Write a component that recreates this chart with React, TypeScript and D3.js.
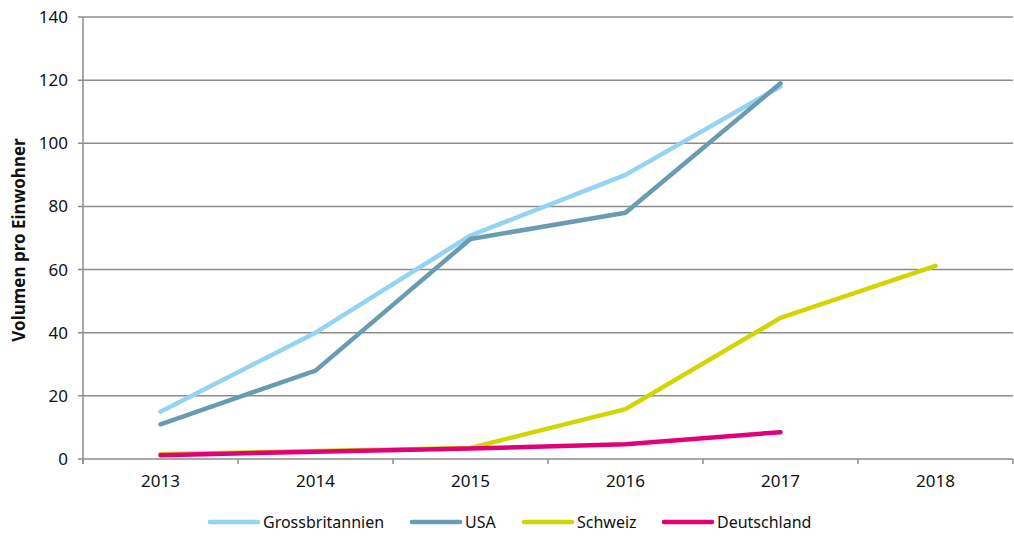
import React, { useRef, useEffect } from "react";
import * as d3 from "d3";

const years = ["2013", "2014", "2015", "2016", "2017", "2018"];
const yTicks = [0, 20, 40, 60, 80, 100, 120, 140];

const seriesNames = ["Grossbritannien", "USA", "Schweiz", "Deutschland"];
const seriesColors = ["#94d3f2", "#6a9bb0", "#cfd600", "#e2007a"];

const grossbritannien = [15, 40, 70.8, 90, 118];
const usa = [11, 28, 69.7, 78, 119];
const schweiz = [1.5, 2.5, 3.5, 15.8, 44.7, 61.2];
const deutschland = [1.2, 2.3, 3.3, 4.7, 8.5];

const allSeries = [grossbritannien, usa, schweiz, deutschland];

const W = 1014;
const H = 538;
const FONT = "'Noto Sans', 'DejaVu Sans', sans-serif";

const App: React.FC = () => {
    const svgRef = useRef<SVGSVGElement | null>(null);

    useEffect(() => {
        const svg = d3.select(svgRef.current);
        svg.selectAll("*").remove();

        const left = 83;
        const right = 1013;
        const top = 17;
        const bottom = 459;

        const x = d3.scaleBand().domain(years).range([left, right]).padding(0);
        const y = d3.scaleLinear().domain([0, 140]).range([bottom, top]);

        // gridlines
        svg.append("g")
            .selectAll("line")
            .data(yTicks)
            .join("line")
            .attr("x1", left - 5)
            .attr("x2", right)
            .attr("y1", (d) => y(d))
            .attr("y2", (d) => y(d))
            .attr("stroke", "#8c8c8c")
            .attr("stroke-width", 1.5);

        // y axis line
        svg.append("line")
            .attr("x1", left)
            .attr("x2", left)
            .attr("y1", top)
            .attr("y2", bottom + 5)
            .attr("stroke", "#8c8c8c")
            .attr("stroke-width", 1.5);

        // x ticks at band boundaries
        const bounds = years.map((d) => x(d) as number).concat([right]);
        svg.append("g")
            .selectAll("line")
            .data(bounds)
            .join("line")
            .attr("x1", (d) => d)
            .attr("x2", (d) => d)
            .attr("y1", bottom)
            .attr("y2", bottom + 5)
            .attr("stroke", "#8c8c8c")
            .attr("stroke-width", 1.5);

        // y tick labels
        svg.append("g")
            .selectAll("text")
            .data(yTicks)
            .join("text")
            .attr("x", left - 15)
            .attr("y", (d) => y(d))
            .attr("dy", "0.35em")
            .attr("text-anchor", "end")
            .attr("font-family", FONT)
            .attr("font-size", 17)
            .attr("fill", "#111")
            .text((d) => d);

        // x tick labels
        svg.append("g")
            .selectAll("text")
            .data(years)
            .join("text")
            .attr("x", (d) => (x(d) as number) + x.bandwidth() / 2)
            .attr("y", bottom + 28)
            .attr("text-anchor", "middle")
            .attr("font-family", FONT)
            .attr("font-size", 17)
            .attr("fill", "#111")
            .text((d) => d);

        // y axis title
        svg.append("text")
            .attr("transform", `translate(25, 240) rotate(-90)`)
            .attr("text-anchor", "middle")
            .attr("font-family", FONT)
            .attr("font-size", 17)
            .attr("font-weight", "bold")
            .attr("fill", "#111")
            .text("Volumen pro Einwohner");

        const line = d3
            .line<number>()
            .x((_, i) => (x(years[i]) as number) + x.bandwidth() / 2)
            .y((d) => y(d));

        allSeries.forEach((s, i) => {
            svg.append("path")
                .datum(s)
                .attr("d", line)
                .attr("fill", "none")
                .attr("stroke", seriesColors[i])
                .attr("stroke-width", 4.5)
                .attr("stroke-linecap", "round")
                .attr("stroke-linejoin", "round");
        });

        // legend
        const legendX = [210, 412, 524, 664];
        const legendY = 522;
        const lg = svg.append("g");
        seriesNames.forEach((name, i) => {
            lg.append("line")
                .attr("x1", legendX[i])
                .attr("x2", legendX[i] + 48)
                .attr("y1", legendY)
                .attr("y2", legendY)
                .attr("stroke", seriesColors[i])
                .attr("stroke-width", 4.5)
                .attr("stroke-linecap", "round");
            lg.append("text")
                .attr("x", legendX[i] + 53)
                .attr("y", legendY)
                .attr("dy", "0.35em")
                .attr("font-family", FONT)
                .attr("font-size", 16)
                .attr("fill", "#111")
                .text(name);
        });

        return () => {
            svg.selectAll("*").remove();
        };
    }, []);

    return (
        <svg
            ref={svgRef}
            width={W}
            height={H}
            style={{ position: "absolute", left: 0, top: 0, background: "#fff" }}
        ></svg>
    );
};

export default App;
